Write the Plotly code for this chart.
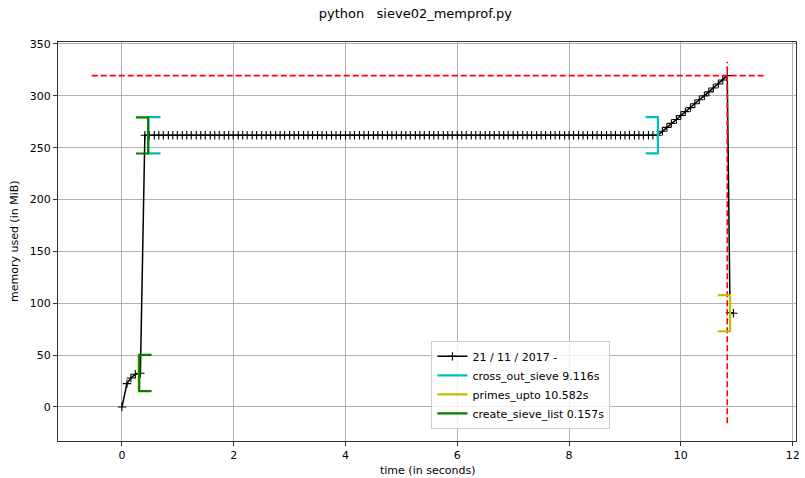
import plotly.graph_objects as go

# ---------------- data ----------------
time_s = [
    0.00, 0.09, 0.16, 0.24, 0.33,
    0.41, 0.49, 0.58, 0.66, 0.74, 0.83, 0.91, 0.99, 1.08, 1.16,
    1.24, 1.33, 1.41, 1.49, 1.58, 1.66, 1.74, 1.83, 1.91, 1.99,
    2.08, 2.16, 2.24, 2.33, 2.41, 2.50, 2.58, 2.66, 2.75, 2.83,
    2.91, 3.00, 3.08, 3.16, 3.25, 3.33, 3.41, 3.50, 3.58, 3.66,
    3.75, 3.83, 3.91, 4.00, 4.08, 4.16, 4.25, 4.33, 4.41, 4.50,
    4.58, 4.66, 4.75, 4.83, 4.91, 5.00, 5.08, 5.16, 5.25, 5.33,
    5.41, 5.50, 5.58, 5.66, 5.75, 5.83, 5.91, 6.00, 6.08, 6.16,
    6.25, 6.33, 6.41, 6.50, 6.58, 6.66, 6.75, 6.83, 6.91, 7.00,
    7.08, 7.17, 7.25, 7.33, 7.42, 7.50, 7.58, 7.67, 7.75, 7.83,
    7.92, 8.00, 8.08, 8.17, 8.25, 8.33, 8.42, 8.50, 8.58, 8.67,
    8.75, 8.83, 8.92, 9.00, 9.08, 9.17, 9.25, 9.33, 9.42, 9.50,
    9.58,
    9.67, 9.75, 9.83, 9.92, 10.00, 10.08, 10.17, 10.25, 10.33, 10.42,
    10.50, 10.58, 10.67, 10.75, 10.83,
    10.88, 10.94,
]
mem_mib = [
    0.0, 22.5, 28.0, 31.5, 32.5,
    262.0, 262.0, 262.0, 262.0, 262.0, 262.0, 262.0, 262.0, 262.0, 262.0,
    262.0, 262.0, 262.0, 262.0, 262.0, 262.0, 262.0, 262.0, 262.0, 262.0,
    262.0, 262.0, 262.0, 262.0, 262.0, 262.0, 262.0, 262.0, 262.0, 262.0,
    262.0, 262.0, 262.0, 262.0, 262.0, 262.0, 262.0, 262.0, 262.0, 262.0,
    262.0, 262.0, 262.0, 262.0, 262.0, 262.0, 262.0, 262.0, 262.0, 262.0,
    262.0, 262.0, 262.0, 262.0, 262.0, 262.0, 262.0, 262.0, 262.0, 262.0,
    262.0, 262.0, 262.0, 262.0, 262.0, 262.0, 262.0, 262.0, 262.0, 262.0,
    262.0, 262.0, 262.0, 262.0, 262.0, 262.0, 262.0, 262.0, 262.0, 262.0,
    262.0, 262.0, 262.0, 262.0, 262.0, 262.0, 262.0, 262.0, 262.0, 262.0,
    262.0, 262.0, 262.0, 262.0, 262.0, 262.0, 262.0, 262.0, 262.0, 262.0,
    262.0, 262.0, 262.0, 262.0, 262.0, 262.0, 262.0, 262.0, 262.0, 262.0,
    262.0,
    265.8, 269.6, 273.4, 277.2, 281.0, 284.8, 288.6, 292.4, 296.2, 300.0,
    303.8, 307.6, 311.4, 315.2, 319.5,
    91.0, 90.4,
]
series_label = "21 / 11 / 2017 -"

func_names = ["cross_out_sieve", "primes_upto", "create_sieve_list"]
func_durations = [9.116, 10.582, 0.157]
func_start_t = [0.47, 0.30, 0.31]
func_end_t = [9.59, 10.88, 0.47]
func_start_mem = [262.0, 32.5, 32.8]
func_end_mem = [262.0, 90.4, 261.8]
func_colors = ["#00bfbf", "#bfbf00", "#008000"]

max_mem = 319.5
max_mem_t = 10.83
hline_x = [-0.54, 11.48]
vline_y = [-15.7, 332.9]

x_ticks = [0, 2, 4, 6, 8, 10, 12]
y_ticks = [0, 50, 100, 150, 200, 250, 300, 350]
title_text = "python   sieve02_memprof.py"
x_label = "time (in seconds)"
y_label = "memory used (in MiB)"

# ---------------- style ----------------
X_RANGE = [-1.144, 12.06]
Y_RANGE = [-32.8, 351.9]
BR_H = 0.22   # bracket arm length (s)
BR_V = 17.4   # bracket half height (MiB)
FONT = "DejaVu Sans"

fig = go.Figure()

fig.add_trace(go.Scatter(
    x=time_s, y=mem_mib, mode="lines+markers", name=series_label,
    line=dict(color="black", width=1.5),
    marker=dict(symbol="cross-thin", size=6, line=dict(color="black", width=1.1)),
))

# max memory lines
fig.add_trace(go.Scatter(
    x=hline_x, y=[max_mem, max_mem], mode="lines", showlegend=False,
    line=dict(color="#ff0000", width=1.6, dash="6px,3px"), hoverinfo="skip",
))
fig.add_trace(go.Scatter(
    x=[max_mem_t, max_mem_t], y=vline_y, mode="lines", showlegend=False,
    line=dict(color="#ff0000", width=1.6, dash="6px,3px"), hoverinfo="skip",
))

# function brackets
for name, dur, t0, t1, m0, m1, col in zip(func_names, func_durations, func_start_t,
                                          func_end_t, func_start_mem, func_end_mem,
                                          func_colors):
    bx = [t0 + BR_H, t0, t0, t0 + BR_H, None, t1 - BR_H, t1, t1, t1 - BR_H]
    by = [m0 + BR_V, m0 + BR_V, m0 - BR_V, m0 - BR_V, None,
          m1 + BR_V, m1 + BR_V, m1 - BR_V, m1 - BR_V]
    fig.add_trace(go.Scatter(
        x=bx, y=by, mode="lines", name=f"{name} {dur:.3f}s",
        line=dict(color=col, width=2.2), connectgaps=False,
    ))

axis_common = dict(
    showgrid=True, gridcolor="#b0b0b0", gridwidth=0.9,
    showline=True, linecolor="#333333", linewidth=1, mirror=True,
    ticks="outside", ticklen=4, tickwidth=1, tickcolor="#333333",
    zeroline=False, tickfont=dict(family=FONT, size=11, color="black"),
)
fig.update_xaxes(range=X_RANGE, tickvals=x_ticks, ticktext=[str(v) for v in x_ticks],
                 **axis_common)
fig.update_yaxes(range=Y_RANGE, tickvals=y_ticks, ticktext=[str(v) for v in y_ticks],
                 **axis_common)

fig.update_layout(
    width=805, height=478,
    margin=dict(l=58, r=5, t=42, b=37),
    paper_bgcolor="white", plot_bgcolor="white",
    font=dict(family=FONT, size=11, color="black"),
    title=dict(text=title_text, x=0.516, xref="container", xanchor="center",
               y=0.971, yref="container", yanchor="middle",
               font=dict(family=FONT, size=13, color="black")),
    legend=dict(x=0.506, y=0.251, xanchor="left", yanchor="top",
                bgcolor="rgba(255,255,255,0.8)", bordercolor="#cccccc",
                borderwidth=1, font=dict(family=FONT, size=11, color="black"),
                tracegroupgap=0),
    annotations=[
        dict(text=x_label, xref="paper", yref="paper", x=0.5, y=-0.0735,
             xanchor="center", yanchor="middle", showarrow=False,
             font=dict(family=FONT, size=11, color="black")),
        dict(text=y_label, xref="paper", yref="paper", x=-0.0589, y=0.5,
             xanchor="center", yanchor="middle", showarrow=False, textangle=-90,
             font=dict(family=FONT, size=11, color="black")),
    ],
    showlegend=True,
)

fig.write_html("out.html", config={"displayModeBar": False},
               post_script="document.body.style.margin='0';document.body.style.padding='0';")
